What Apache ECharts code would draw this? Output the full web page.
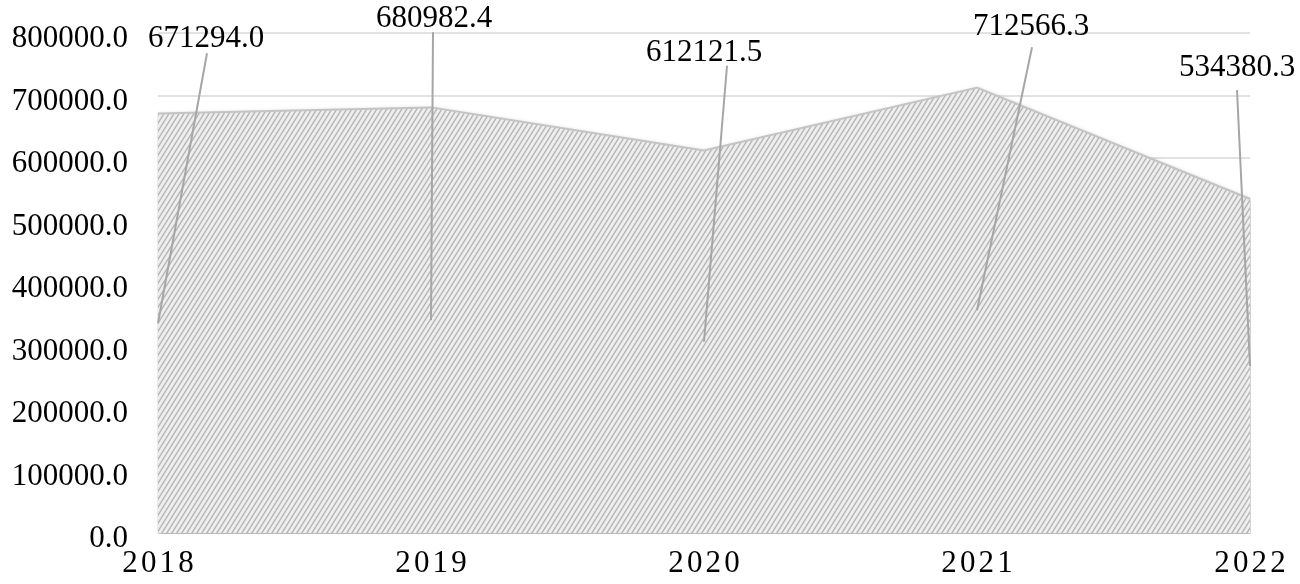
<!DOCTYPE html>
<html>
<head>
<meta charset="utf-8">
<script src="https://cdn.jsdelivr.net/npm/echarts@6/dist/echarts.min.js"></script>
<style>
html,body{margin:0;padding:0;background:#fff;}
#chart{width:1300px;height:584px;}
</style>
</head>
<body>
<div id="chart"></div>
<script>
// ---- data ----
var years = ['2018', '2019', '2020', '2021', '2022'];
var values = [671294.0, 680982.4, 612121.5, 712566.3, 534380.3];
var yTicks = [0, 100000, 200000, 300000, 400000, 500000, 600000, 700000, 800000];

// ---- layout for the data labels (pixel offsets from the label anchor) ----
var labelLayout = [
  { lx: 48, ly: -284, tx: 49, ty: -270 },
  { lx: 3, ly: -301, tx: 2, ty: -288 },
  { lx: 0, ly: -289, tx: 23, ty: -276 },
  { lx: 54, ly: -283, tx: 55, ty: -263 },
  { lx: -13, ly: -298, tx: -13, ty: -276 }
];

var FONT = '"Liberation Serif", "Times New Roman", serif';

// hatch pattern tile
function makePattern() {
  var c = document.createElement('canvas');
  var w = 5, h = 8;
  c.width = w; c.height = h;
  var ctx = c.getContext('2d');
  ctx.fillStyle = '#eeeeee';
  ctx.fillRect(0, 0, w, h);
  ctx.strokeStyle = '#b4b4b4';
  ctx.lineWidth = 1.4;
  ctx.beginPath();
  ctx.moveTo(-w, 2 * h); ctx.lineTo(2 * w, -h);
  ctx.moveTo(-2 * w, 2 * h); ctx.lineTo(w, -h);
  ctx.moveTo(0, 2 * h); ctx.lineTo(3 * w, -h);
  ctx.stroke();
  return c;
}

var chart = echarts.init(document.getElementById('chart'), null, { renderer: 'canvas' });

var option = {
  backgroundColor: '#ffffff',
  animation: false,
  grid: { left: 158, right: 50, top: 33, bottom: 51, containLabel: false },
  xAxis: {
    type: 'category',
    data: years,
    boundaryGap: false,
    axisLine: { show: false },
    axisTick: { show: false },
    splitLine: { show: false },
    axisLabel: {
      color: '#000', margin: 15,
      formatter: function (v) {
        return v.split('').map(function (ch) { return '{d|' + ch + '}'; }).join('');
      },
      rich: { d: { fontFamily: FONT, fontSize: 31, color: '#000', padding: [0, 1.6, 0, 1.6] } }
    }
  },
  yAxis: {
    type: 'value',
    min: yTicks[0],
    max: yTicks[yTicks.length - 1],
    interval: yTicks[1] - yTicks[0],
    axisLine: { show: false },
    axisTick: { show: false },
    splitLine: { show: true, lineStyle: { color: '#d9d9d9', width: 1.5 } },
    axisLabel: {
      color: '#000', fontFamily: FONT, fontSize: 31, margin: 30,
      verticalAlign: 'top', lineHeight: 12,
      formatter: function (v) { return v.toFixed(1); }
    }
  },
  series: [
    {
      type: 'line',
      data: values,
      symbol: 'none',
      smooth: false,
      lineStyle: { color: '#c4c4c4', width: 2 },
      areaStyle: {
        color: { image: makePattern(), repeat: 'repeat' },
        opacity: 1,
        shadowColor: 'rgba(0,0,0,0.3)',
        shadowBlur: 4,
        shadowOffsetX: 1,
        shadowOffsetY: 1
      },
      z: 2
    },
    {
      type: 'custom',
      data: years.map(function (y, i) { return [i, values[i]]; }),
      encode: { x: 0, y: 1 },
      z: 5,
      renderItem: function (params, api) {
        var i = params.dataIndex;
        var v = api.value(1);
        var a = api.coord([api.value(0), v / 2]);
        var L = labelLayout[i];
        return {
          type: 'group',
          children: [
            {
              type: 'line',
              shape: { x1: a[0], y1: a[1], x2: a[0] + L.tx, y2: a[1] + L.ty },
              style: { stroke: '#a6a6a6', lineWidth: 2 }
            },
            {
              type: 'text',
              x: a[0] + L.lx,
              y: a[1] + L.ly,
              style: {
                text: v.toFixed(1),
                fill: '#000',
                font: '31px ' + FONT,
                align: 'center',
                verticalAlign: 'middle'
              }
            }
          ]
        };
      }
    }
  ]
};

chart.setOption(option);
</script>
</body>
</html>
